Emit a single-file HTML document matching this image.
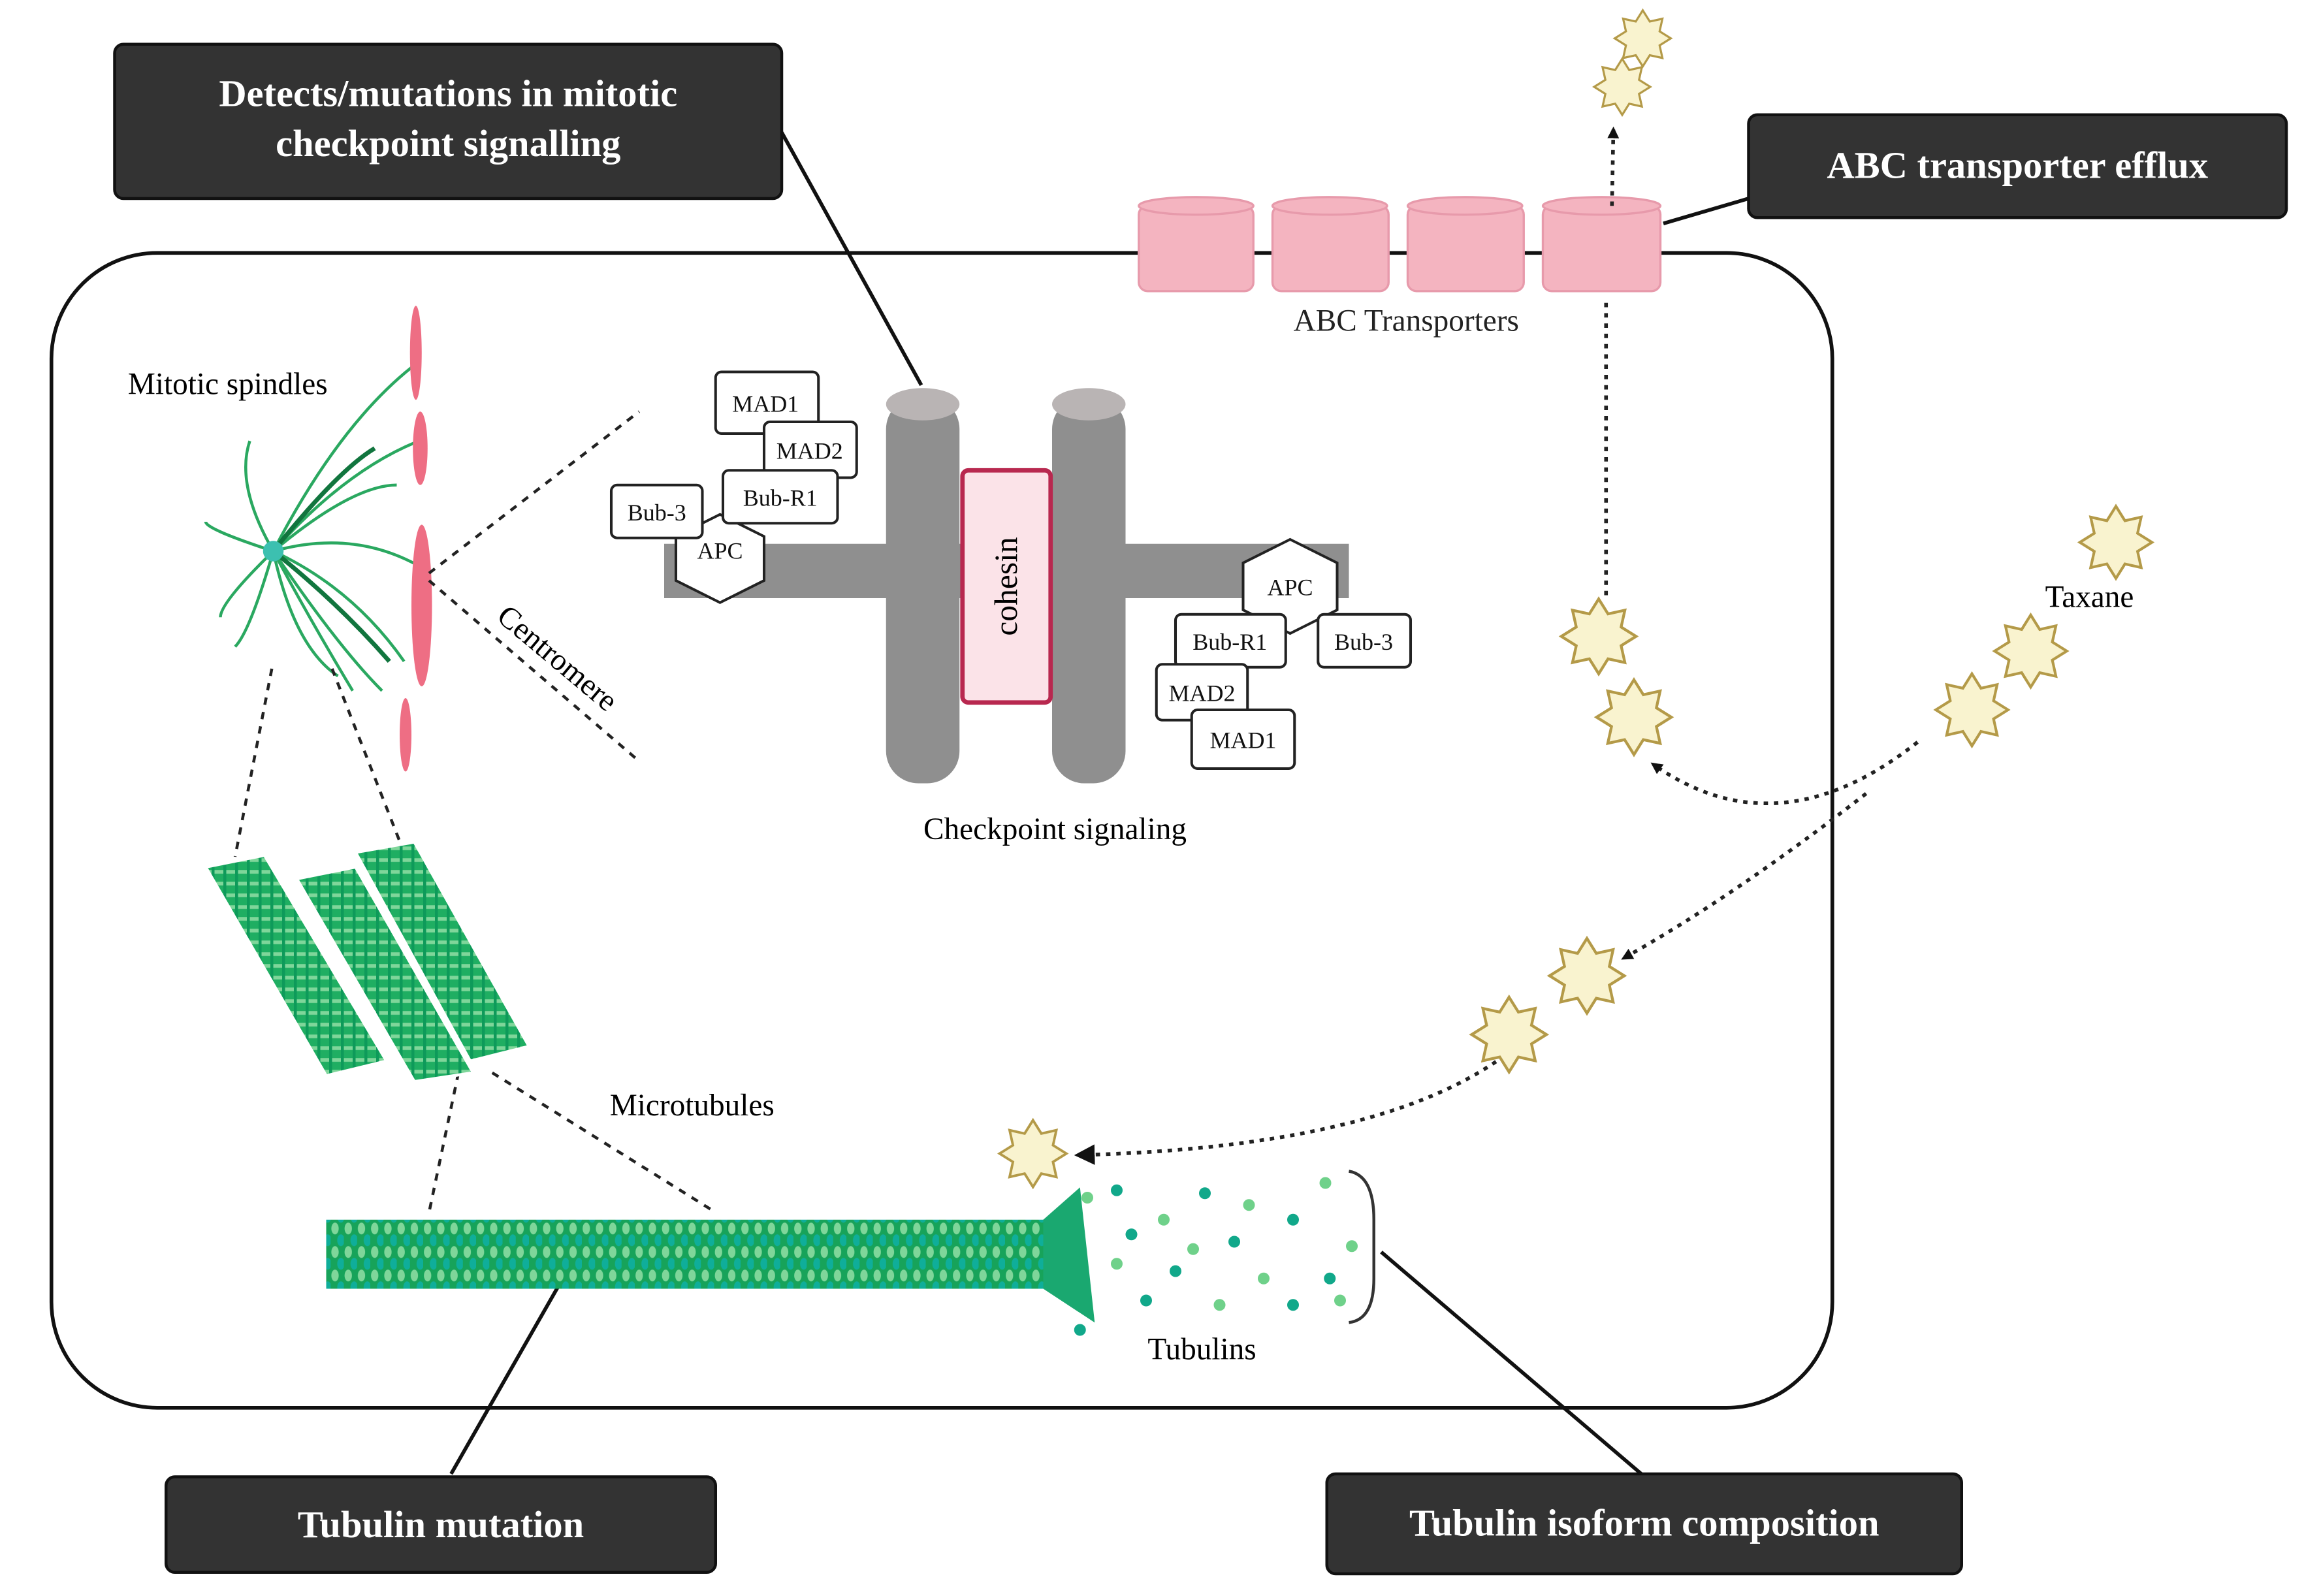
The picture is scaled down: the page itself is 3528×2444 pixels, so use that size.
<!DOCTYPE html>
<html><head><meta charset="utf-8"><style>
html,body{margin:0;padding:0;background:#fff;}
svg{display:block;}
text{font-family:"Liberation Serif",serif;}
</style></head><body>
<svg width="3528" height="2444" viewBox="0 0 1568 1086" xmlns="http://www.w3.org/2000/svg">
<defs>
<pattern id="mt" width="9" height="16" patternUnits="userSpaceOnUse">
<rect width="9" height="16" fill="#17a35a"/>
<ellipse cx="3" cy="4" rx="2.5" ry="4" fill="#7fd69a"/>
<ellipse cx="7" cy="12" rx="2.5" ry="4" fill="#0fae9a"/>
</pattern>
<pattern id="mt2" width="8" height="8" patternUnits="userSpaceOnUse">
<rect width="8" height="8" fill="#1fae62"/>
<rect x="0" y="0" width="8" height="2.5" fill="#7fd69a"/>
<rect x="0" y="0" width="2" height="8" fill="#0e9a5a"/>
</pattern>
<symbol id="star" viewBox="-22 -22 44 44">
<polygon points="0,-20 5,-12 14,-14 12,-5 20,0 12,5 14,14 5,12 0,20 -5,12 -14,14 -12,5 -20,0 -12,-5 -14,-14 -5,-12" fill="#f9f3cf" stroke="#b49a48" stroke-width="1.5"/>
</symbol>
<marker id="ah" markerWidth="8" markerHeight="8" refX="6" refY="4" orient="auto" markerUnits="userSpaceOnUse"><path d="M0,0 L8,4 L0,8 z" fill="#111"/></marker>
<marker id="ah2" markerWidth="14" markerHeight="14" refX="10" refY="7" orient="auto" markerUnits="userSpaceOnUse"><path d="M0,0 L14,7 L0,14 z" fill="#111"/></marker>
</defs>

<rect x="35" y="172" width="1212" height="786" rx="72" fill="none" stroke="#111" stroke-width="2.5"/>

<g fill="#f4b4c0" stroke="#e79aab" stroke-width="1.5">
<rect x="775" y="140" width="78" height="58" rx="6"/><ellipse cx="814" cy="140" rx="39" ry="6"/>
<rect x="866" y="140" width="79" height="58" rx="6"/><ellipse cx="905" cy="140" rx="39" ry="6"/>
<rect x="958" y="140" width="79" height="58" rx="6"/><ellipse cx="997" cy="140" rx="39" ry="6"/>
<rect x="1050" y="140" width="80" height="58" rx="6"/><ellipse cx="1090" cy="140" rx="40" ry="6"/>
</g>
<text x="957" y="225" font-size="21" text-anchor="middle" fill="#222">ABC Transporters</text>

<g fill="#333" stroke="#111" stroke-width="2">
<rect x="78" y="30" width="454" height="105" rx="6"/>
<rect x="1190" y="78" width="366" height="70" rx="6"/>
<rect x="113" y="1005" width="374" height="65" rx="6"/>
<rect x="903" y="1003" width="432" height="68" rx="6"/>
</g>
<g fill="#fff" font-weight="bold" font-size="26" text-anchor="middle">
<text x="305" y="72">Detects/mutations in mitotic</text>
<text x="305" y="106">checkpoint signalling</text>
<text x="1373" y="121">ABC transporter efflux</text>
<text x="300" y="1046">Tubulin mutation</text>
<text x="1119" y="1045">Tubulin isoform composition</text>
</g>
<g stroke="#111" stroke-width="2.5">
<line x1="532" y1="90" x2="627" y2="262"/>
<line x1="1190" y1="135" x2="1132" y2="152"/>
<line x1="307" y1="1003" x2="383" y2="870"/>
<line x1="1117" y1="1003" x2="940" y2="852"/>
</g>

<rect x="452" y="370" width="466" height="37" fill="#8f8f8f"/>
<rect x="603" y="270" width="50" height="263" rx="22" fill="#8f8f8f"/>
<ellipse cx="628" cy="275" rx="25" ry="11" fill="#b9b4b4"/>
<rect x="716" y="270" width="50" height="263" rx="22" fill="#8f8f8f"/>
<ellipse cx="741" cy="275" rx="25" ry="11" fill="#b9b4b4"/>
<rect x="655" y="320" width="60" height="158" rx="4" fill="#fbe3e8" stroke="#b8284f" stroke-width="3"/>
<text x="685" y="399" font-size="22" text-anchor="middle" transform="rotate(-90 685 399)" dy="7">cohesin</text>
<text x="718" y="571" font-size="21" text-anchor="middle">Checkpoint signaling</text>

<g fill="#fff" stroke="#222" stroke-width="1.8" font-size="16">
<polygon points="490,350 520,365 520,395 490,410 460,395 460,365"/>
<rect x="487" y="253" width="70" height="42" rx="4"/>
<rect x="520" y="287" width="63" height="38" rx="4"/>
<rect x="492" y="320" width="78" height="36" rx="4"/>
<rect x="416" y="330" width="62" height="36" rx="4"/>
<polygon points="878,367 910,383 910,415 878,431 846,415 846,383"/>
<rect x="800" y="418" width="75" height="36" rx="4"/>
<rect x="897" y="418" width="63" height="36" rx="4"/>
<rect x="787" y="452" width="62" height="38" rx="4"/>
<rect x="811" y="483" width="70" height="40" rx="4"/>
</g>
<g font-size="16" fill="#111" text-anchor="middle">
<text x="521" y="280">MAD1</text><text x="551" y="312">MAD2</text><text x="531" y="344">Bub-R1</text>
<text x="447" y="354">Bub-3</text><text x="490" y="380">APC</text>
<text x="878" y="405">APC</text><text x="837" y="442">Bub-R1</text><text x="928" y="442">Bub-3</text>
<text x="818" y="477">MAD2</text><text x="846" y="509">MAD1</text>
</g>

<g stroke="#2aa860" stroke-width="2" fill="none">
<path d="M186,375 Q230,290 280,250"/><path d="M186,375 Q235,320 285,300"/>
<path d="M186,375 Q240,360 285,385"/><path d="M186,375 Q240,400 275,450"/>
<path d="M186,375 Q230,440 260,470"/><path d="M186,375 Q200,440 230,460"/>
<path d="M186,375 Q160,330 170,300"/><path d="M186,375 Q140,360 140,355"/>
<path d="M186,375 Q150,410 150,420"/><path d="M186,375 Q170,430 160,440"/>
<path d="M186,375 Q210,420 240,470"/><path d="M186,375 Q240,330 270,330"/>
</g>
<g stroke="#11753e" stroke-width="3" fill="none">
<path d="M186,375 Q230,320 255,305"/><path d="M186,375 Q230,410 265,450"/>
</g>
<circle cx="186" cy="375" r="7" fill="#3cc0b0"/>
<g fill="#ee6e84">
<ellipse cx="283" cy="240" rx="4" ry="32"/><ellipse cx="286" cy="305" rx="5" ry="25"/>
<ellipse cx="287" cy="412" rx="7" ry="55"/><ellipse cx="276" cy="500" rx="4" ry="25"/>
</g>
<text x="155" y="268" font-size="21" text-anchor="middle">Mitotic spindles</text>
<text x="375" y="453" font-size="21" text-anchor="middle" transform="rotate(40 375 453)">Centromere</text>
<g stroke="#222" stroke-width="2" stroke-dasharray="5,5" fill="none">
<line x1="292" y1="390" x2="435" y2="280"/><line x1="292" y1="395" x2="435" y2="518"/>
<line x1="185" y1="455" x2="160" y2="583"/><line x1="226" y1="455" x2="273" y2="575"/>
<line x1="312" y1="730" x2="292" y2="825"/><line x1="335" y1="730" x2="487" y2="825"/>
</g>

<g fill="url(#mt2)" stroke="#fff" stroke-width="2">
<polygon points="140,590 180,582 263,722 222,732"/>
<polygon points="202,598 242,590 322,730 282,736"/>
<polygon points="242,580 282,573 360,712 320,722"/>
</g>
<text x="471" y="759" font-size="21" text-anchor="middle">Microtubules</text>

<rect x="222" y="830" width="490" height="47" fill="url(#mt)"/>
<polygon points="710,830 735,808 745,900 710,877" fill="#1aa870"/>
<g>
<circle cx="760" cy="810" r="4" fill="#11a88a"/><circle cx="792" cy="830" r="4" fill="#6fd18a"/>
<circle cx="820" cy="812" r="4" fill="#11a88a"/><circle cx="850" cy="820" r="4" fill="#6fd18a"/>
<circle cx="902" cy="805" r="4" fill="#6fd18a"/><circle cx="770" cy="840" r="4" fill="#11a88a"/>
<circle cx="812" cy="850" r="4" fill="#6fd18a"/><circle cx="840" cy="845" r="4" fill="#11a88a"/>
<circle cx="880" cy="830" r="4" fill="#11a88a"/><circle cx="920" cy="848" r="4" fill="#6fd18a"/>
<circle cx="760" cy="860" r="4" fill="#6fd18a"/><circle cx="800" cy="865" r="4" fill="#11a88a"/>
<circle cx="860" cy="870" r="4" fill="#6fd18a"/><circle cx="905" cy="870" r="4" fill="#11a88a"/>
<circle cx="780" cy="885" r="4" fill="#11a88a"/><circle cx="830" cy="888" r="4" fill="#6fd18a"/>
<circle cx="880" cy="888" r="4" fill="#11a88a"/><circle cx="912" cy="885" r="4" fill="#6fd18a"/>
<circle cx="735" cy="905" r="4" fill="#11a88a"/><circle cx="740" cy="815" r="4" fill="#6fd18a"/>
</g>
<path d="M918,797 Q935,800 935,830 L935,870 Q935,898 918,900" fill="none" stroke="#333" stroke-width="2"/>
<text x="818" y="925" font-size="21" text-anchor="middle">Tubulins</text>

<g stroke="#222" stroke-width="2.5" stroke-dasharray="3,4" fill="none">
<line x1="1093" y1="405" x2="1093" y2="205"/>
<line x1="1097" y1="140" x2="1098" y2="88" marker-end="url(#ah)"/>
<path d="M1305,505 Q1210,580 1125,520" marker-end="url(#ah)"/>
<path d="M1270,540 Q1180,610 1105,652" marker-end="url(#ah)"/>
<path d="M1040,705 Q960,780 735,786" marker-end="url(#ah2)"/>
</g>
<use href="#star" x="1097" y="5" width="42" height="42"/>
<use href="#star" x="1083" y="38" width="42" height="42"/>
<use href="#star" x="1413" y="342" width="54" height="54"/>
<text x="1422" y="413" font-size="21" text-anchor="middle">Taxane</text>
<use href="#star" x="1355" y="416" width="54" height="54"/>
<use href="#star" x="1315" y="456" width="54" height="54"/>
<use href="#star" x="1060" y="405" width="56" height="56"/>
<use href="#star" x="1084" y="460" width="56" height="56"/>
<use href="#star" x="1052" y="636" width="56" height="56"/>
<use href="#star" x="999" y="676" width="56" height="56"/>
<use href="#star" x="678" y="760" width="50" height="50"/>
</svg>
</body></html>
